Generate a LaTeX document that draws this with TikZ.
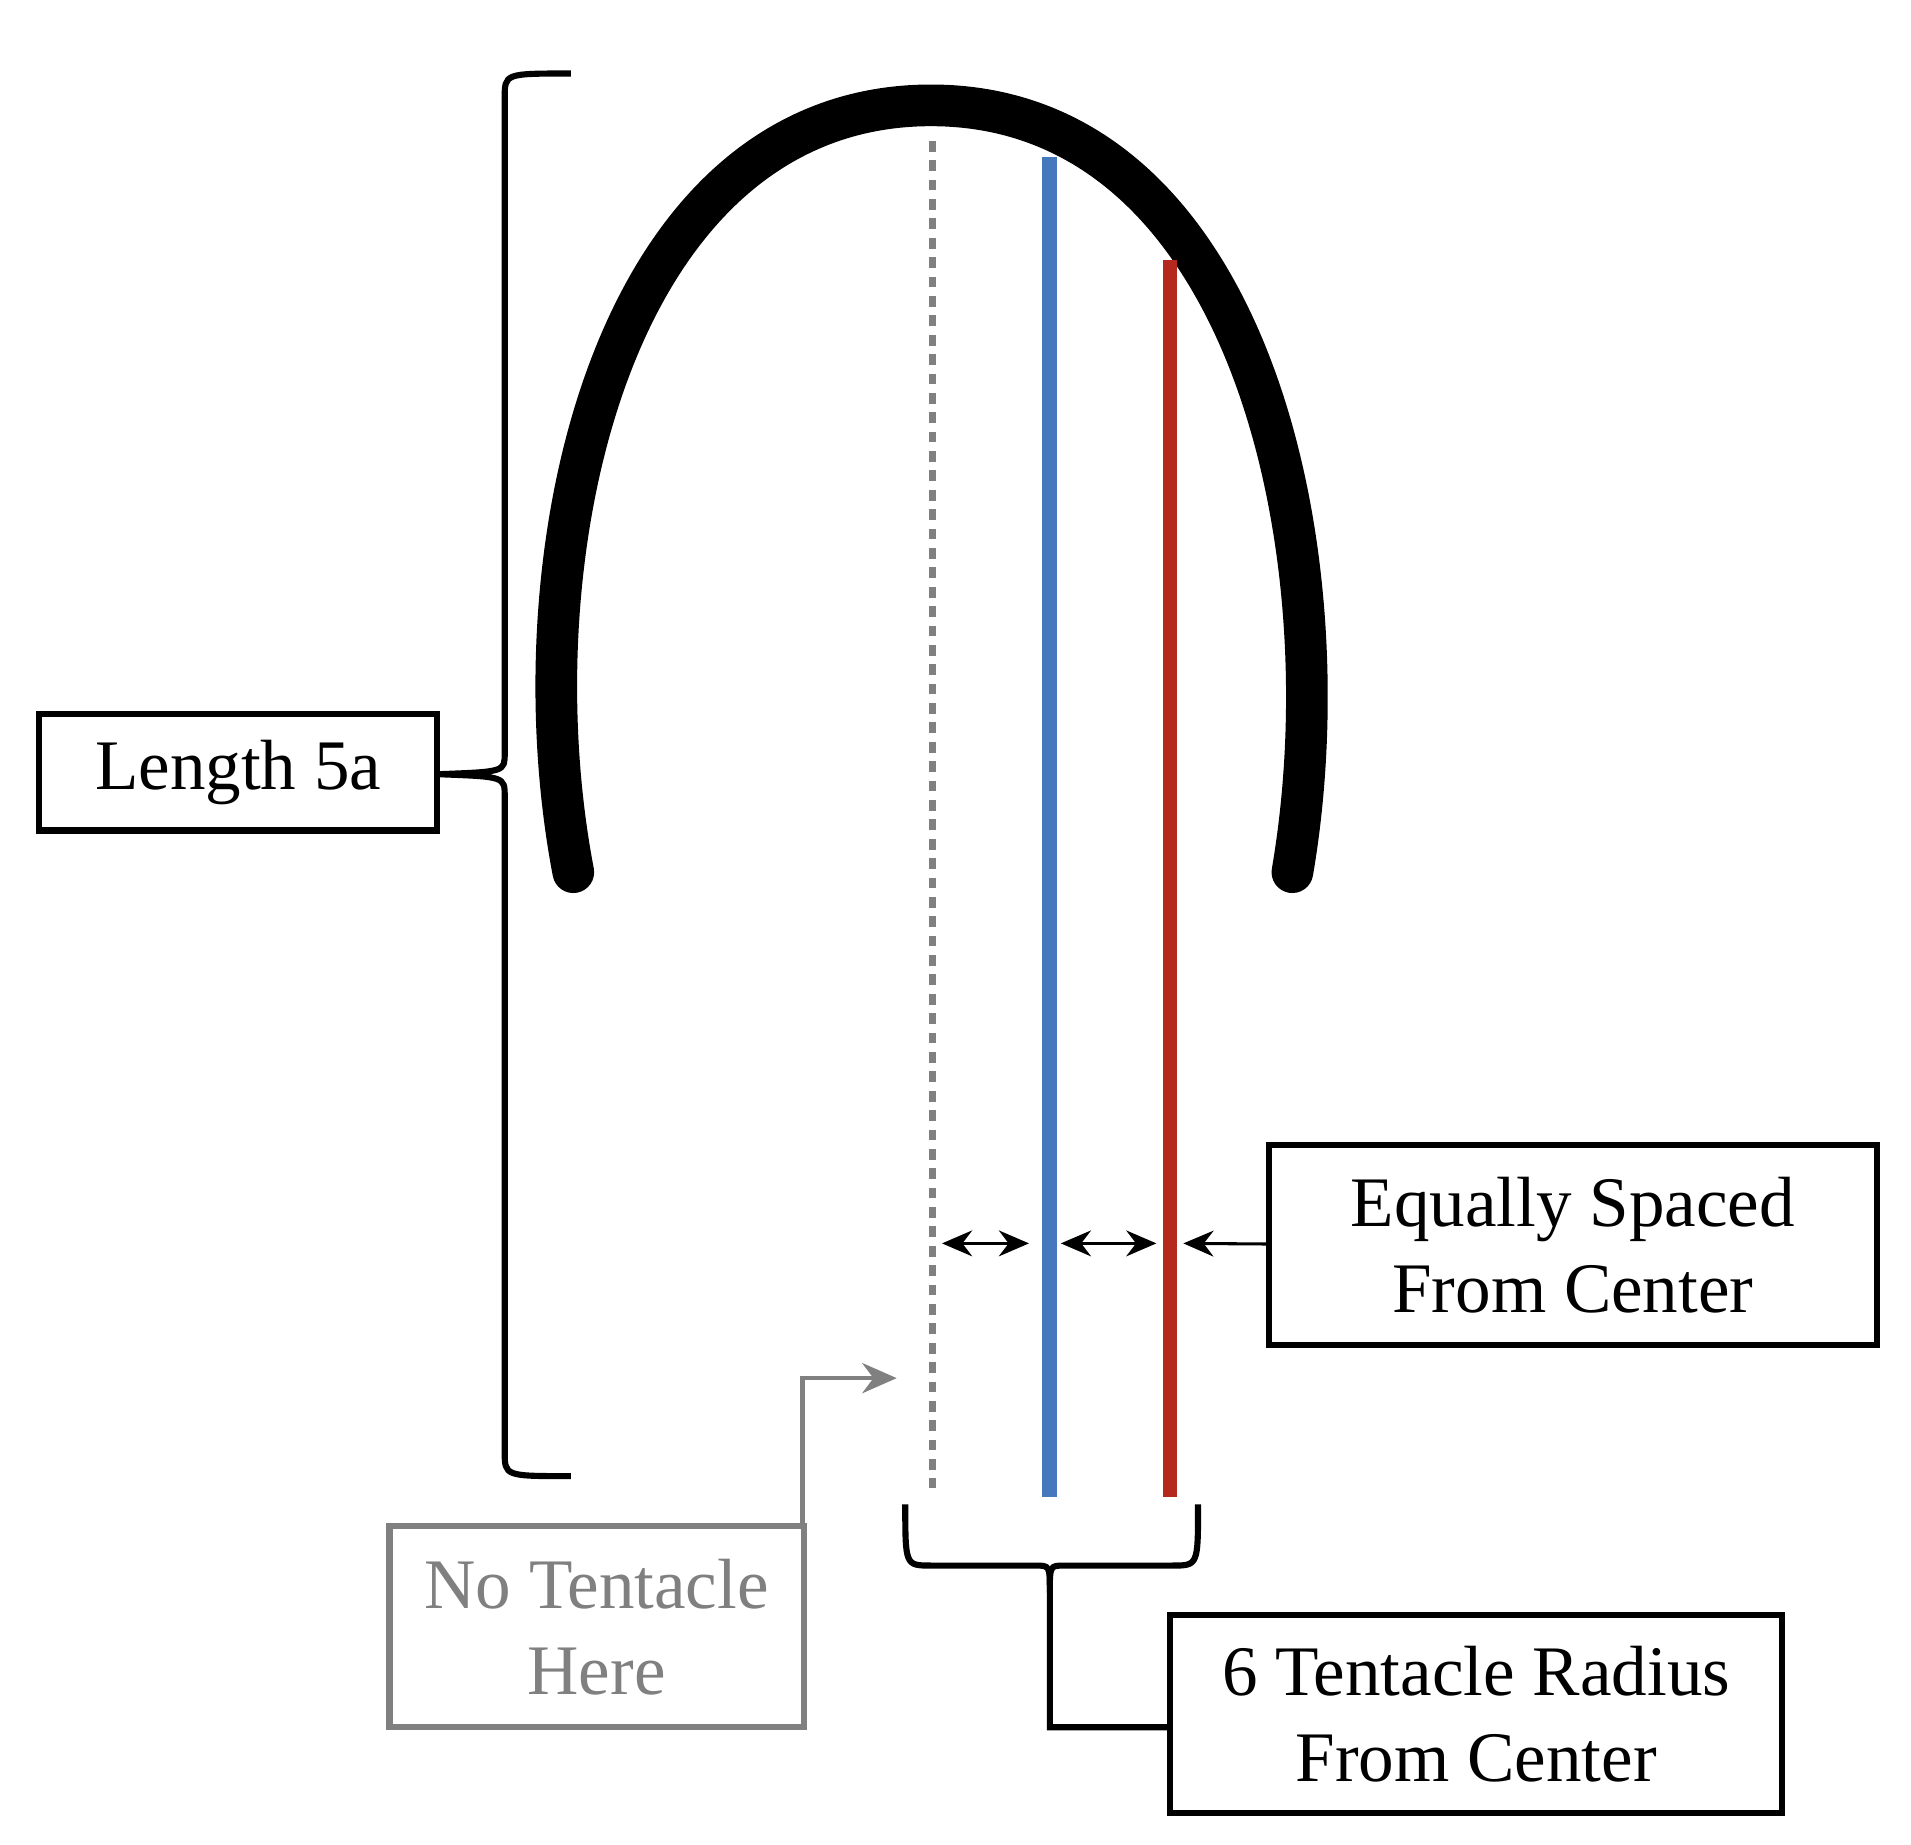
\documentclass[tikz,border=0pt]{standalone}
\usepackage{fontspec}
\setmainfont{Liberation Serif}
\usetikzlibrary{arrows.meta}
\definecolor{tblue}{RGB}{70,120,190}
\definecolor{tred}{RGB}{180,40,30}
\definecolor{tgray}{RGB}{128,128,128}
\tikzset{
  lbl/.style={draw,line width=5*0.2845pt,align=center,font=\fontsize{16.5}{20}\selectfont,inner sep=0pt},
  grylbl/.style={lbl,draw=tgray,text=tgray},
  brace/.style={line width=5*0.2845pt},
  sarrow/.style={line width=2.5*0.2845pt,-{Stealth[length=7pt,width=6pt]}},
  darrow/.style={line width=2.5*0.2845pt,{Stealth[length=7pt,width=6pt]}-{Stealth[length=7pt,width=6pt]}}
}
\begin{document}
\begin{tikzpicture}[x=0.01cm,y=-0.01cm]
\useasboundingbox (0,0) rectangle (1560,1506);
% arch
\draw[line width=34*0.2845pt,line cap=round] (468,712) .. controls (418,450) and (500,86) .. (760,86) .. controls (1020,86) and (1100,450) .. (1055,712);
% lines
\draw[tgray,line width=6*0.2845pt,dash pattern=on 2.5pt off 2pt] (761,115) -- (761,1215);
\draw[tblue,line width=12*0.2845pt] (857,128) -- (857,1222);
\draw[tred,line width=12*0.2845pt] (955,212) -- (955,1222);
% left brace
\draw[brace] (466,60) .. controls (412,60) .. (412,80) -- (412,615) .. controls (412,630) .. (358,632) .. controls (412,634) .. (412,650) -- (412,1185) .. controls (412,1205) .. (466,1205);
\node[lbl,minimum width=325*0.01cm,minimum height=95*0.01cm] (len) at (194.5,630.5) {Length 5a};
% equally spaced
\node[lbl,minimum width=496*0.01cm,minimum height=163*0.01cm] (eq) at (1284,1016.5) {Equally Spaced\\From Center};
\coordinate (a1) at (769,1015); \coordinate (a2) at (840,1015);
\coordinate (a3) at (866,1015); \coordinate (a4) at (944,1015);
\coordinate (a5) at (966,1015);
\draw[darrow] (a1) -- (a2);
\draw[darrow] (a3) -- (a4);
\draw[sarrow] (eq.west) ++(0,-1) -- (a5);
% bottom brace
\node[lbl,minimum width=500*0.01cm,minimum height=162*0.01cm] (rad) at (1205,1399) {6 Tentacle Radius\\From Center};
\draw[brace] (739,1228) .. controls (739,1278) .. (760,1278) -- (845,1278) .. controls (857,1278) .. (857,1300) -- (857,1410) -- (rad.west |- 0,1410);
\draw[brace] (978,1228) .. controls (978,1278) .. (957,1278) -- (869,1278) .. controls (857,1278) .. (857,1300);
% no tentacle
\node[grylbl,minimum width=338*0.01cm,minimum height=164*0.01cm] (no) at (487,1328) {No Tentacle\\Here};
\coordinate (nt) at (732,1125);
\draw[tgray,line width=3.5*0.2845pt,-{Stealth[length=8pt,width=7pt]}] (655,1246) -- (655,1125) -- (nt);
\end{tikzpicture}
\end{document}
